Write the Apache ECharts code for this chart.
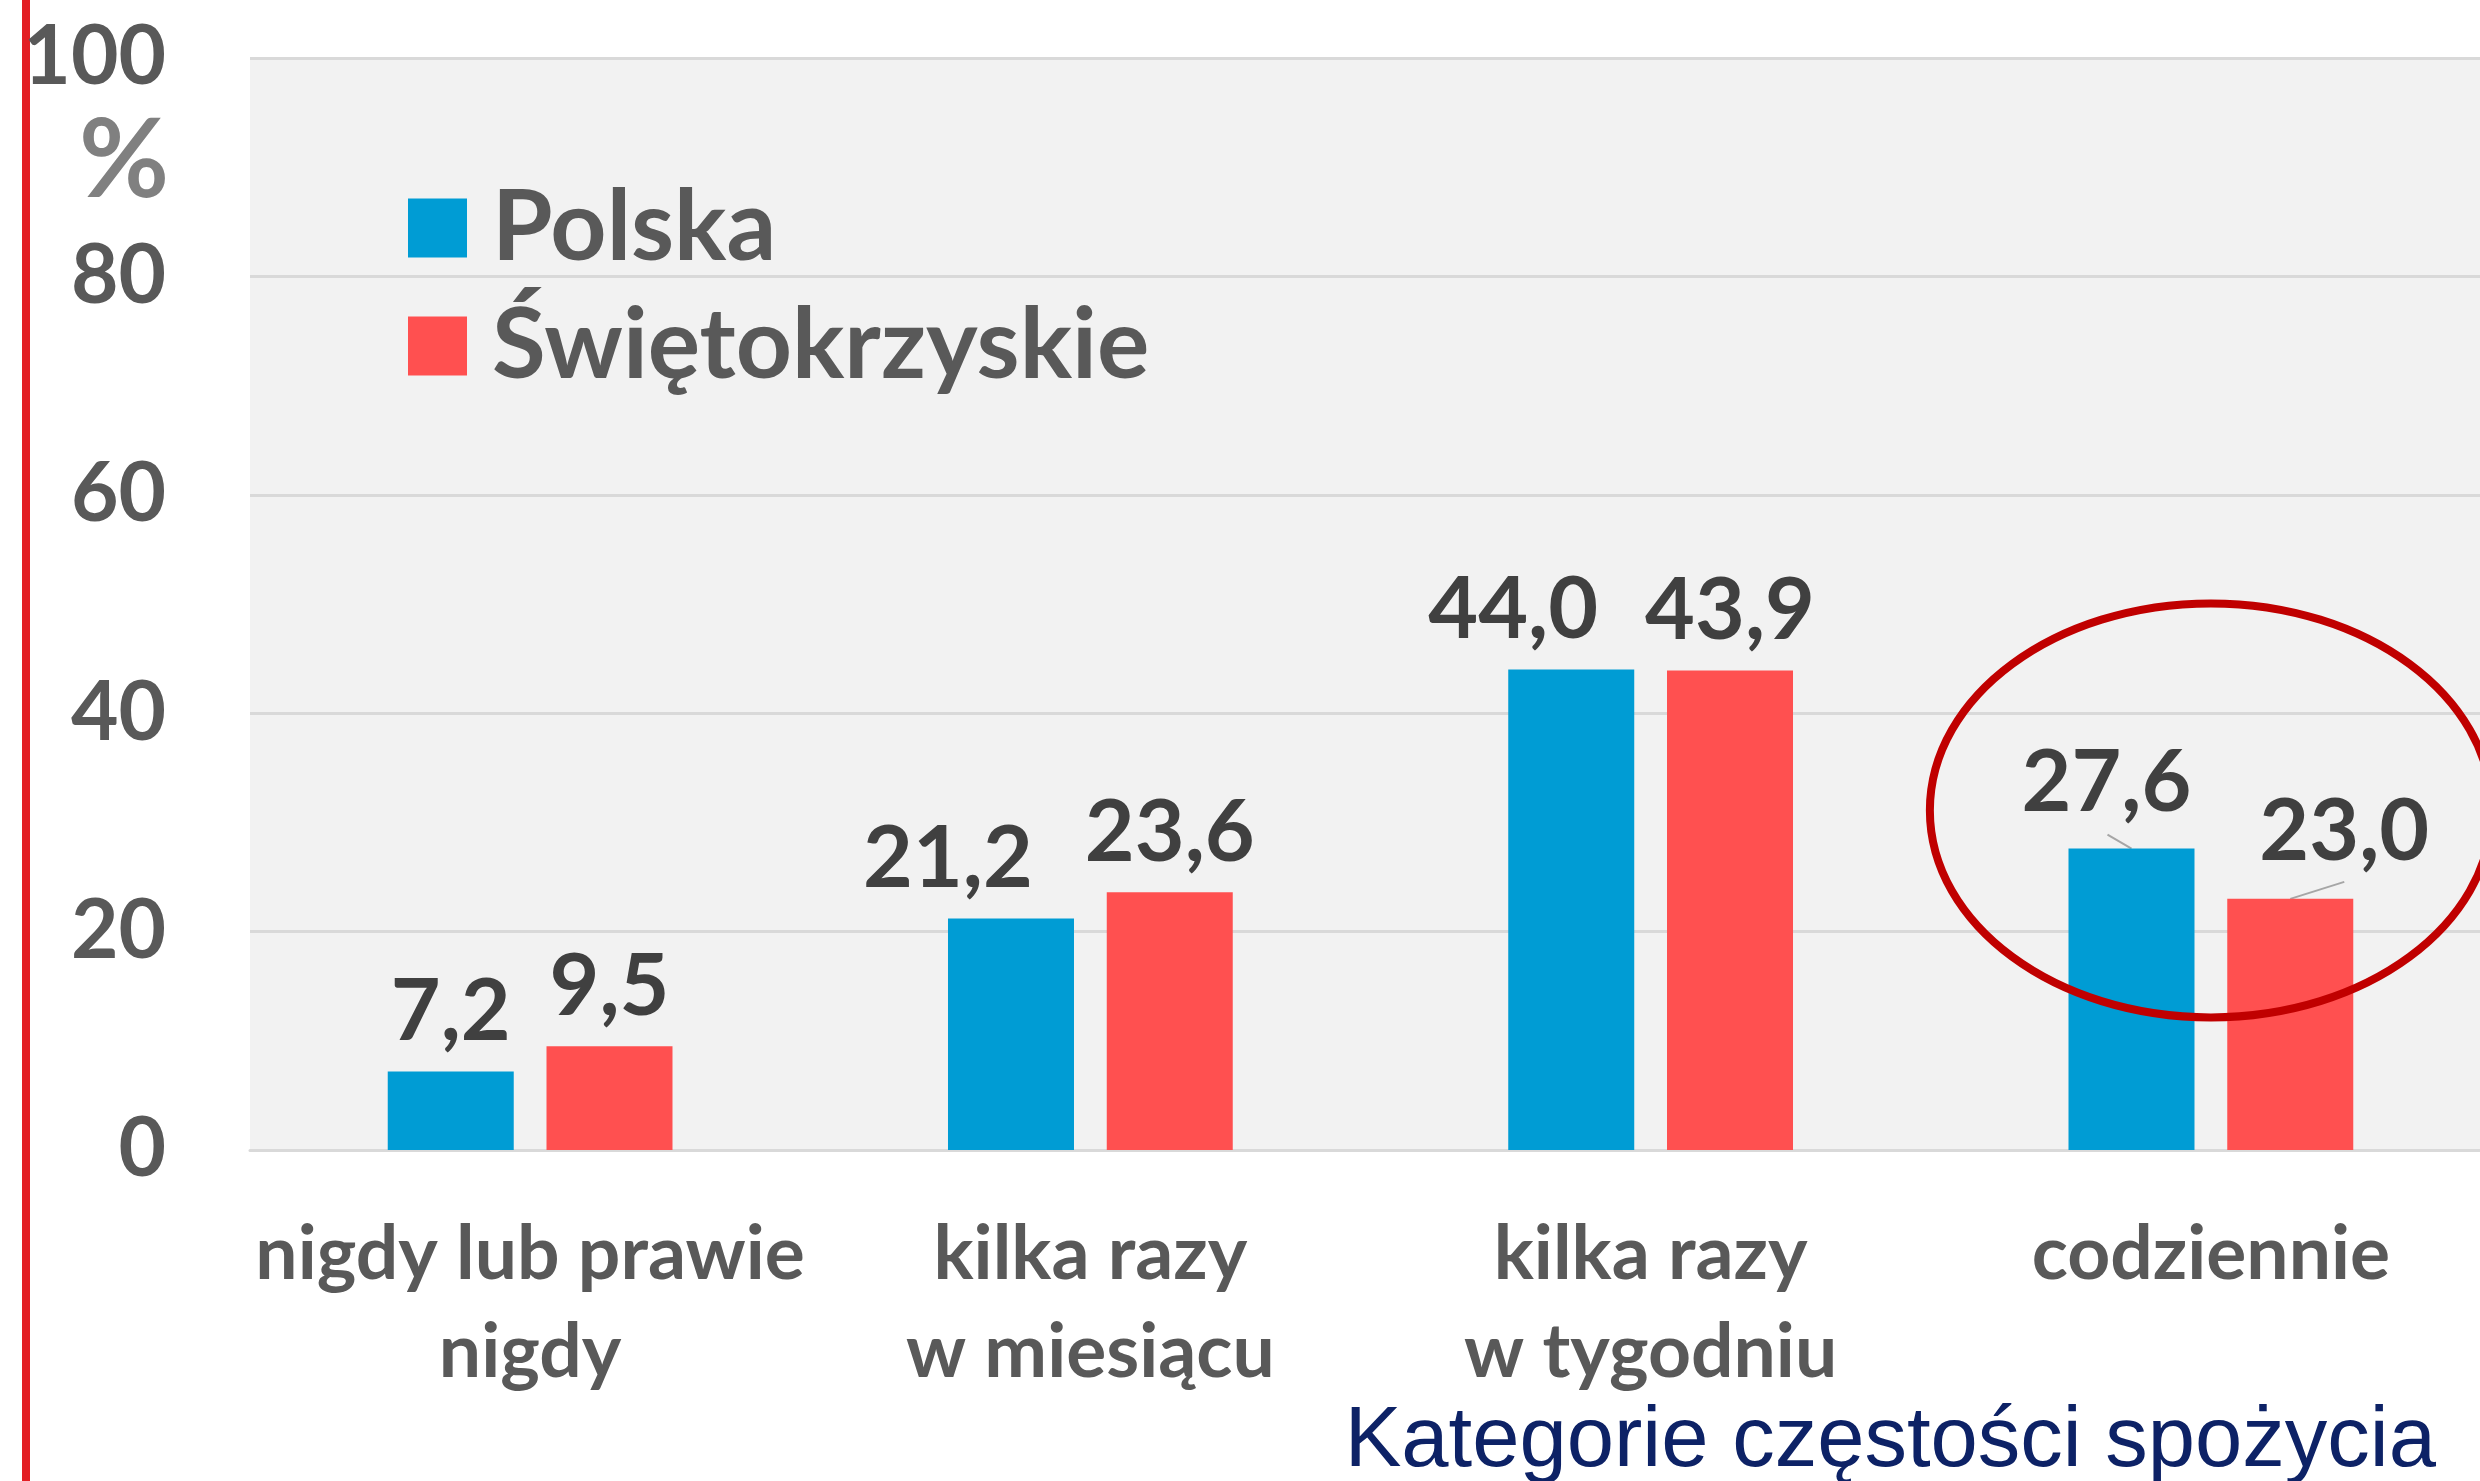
<!DOCTYPE html>
<html>
<head>
<meta charset="utf-8">
<script src="https://cdn.jsdelivr.net/npm/echarts@6/dist/echarts.min.js"></script>
<style>
  html, body { margin: 0; padding: 0; background: #fff; }
  #chart { width: 2480px; height: 1481px; }
</style>
</head>
<body>
<div id="chart"></div>
<script>
// kategorie częstości spożycia
const categories = ['nigdy lub prawie\nnigdy', 'kilka razy\nw miesiącu', 'kilka razy\nw tygodniu', 'codziennie'];
const polska = [7.2, 21.2, 44.0, 27.6];
const swietokrzyskie = [9.5, 23.6, 43.9, 23.0];
const yTicks = [0, 20, 40, 60, 80, 100];

// przesunięcia etykiet (px) jak na oryginale
const labelShift = [
  [[0, 0], [-63, 0], [-58, 0], [-25, -6]],
  [[0, 0], [0, 0], [0, 0], [54, -8]]
];

const FONT = 'Lato';
const BAR_W = 126;
const BAR_GAP = 0.26;
const chart = echarts.init(document.getElementById('chart'));

const fmt = v => v.toFixed(1).replace('.', ',');

const barLabel = {
  show: true,
  position: 'top',
  distance: 16,
  fontFamily: FONT,
  fontWeight: 'bold',
  fontSize: 86,
  color: '#404040',
  formatter: p => fmt(p.value)
};

const option = {
  animation: false,
  grid: {
    left: 250, width: 2241, top: 58, bottom: 331,
    outerBoundsMode: 'none',
    show: true, backgroundColor: '#f2f2f2', borderWidth: 0
  },
  legend: {
    orient: 'vertical',
    left: 403, top: 173,
    icon: 'rect',
    itemWidth: 59, itemHeight: 59,
    itemGap: 18,
    textStyle: {
      fontFamily: FONT, fontWeight: 'bold', fontSize: 98, color: '#595959',
      lineHeight: 100, padding: [0, 0, 0, 20]
    },
    data: ['Polska', 'Świętokrzyskie']
  },
  xAxis: {
    type: 'category',
    data: categories,
    axisTick: { show: false },
    axisLine: { lineStyle: { color: '#d9d9d9', width: 3 } },
    axisLabel: {
      interval: 0, margin: 56,
      fontFamily: FONT, fontWeight: 'bold', fontSize: 75, lineHeight: 98,
      color: '#595959'
    }
  },
  yAxis: {
    type: 'value',
    min: yTicks[0], max: yTicks[yTicks.length - 1], interval: 20,
    axisLine: { show: false },
    axisTick: { show: false },
    splitLine: { lineStyle: { color: '#d9d9d9', width: 3 } },
    axisLabel: {
      margin: 84,
      fontFamily: FONT, fontWeight: 'bold', fontSize: 82, color: '#595959'
    }
  },
  series: [
    {
      name: 'Polska', type: 'bar',
      data: polska,
      barWidth: BAR_W, barGap: (BAR_GAP * 100) + '%',
      itemStyle: { color: '#009cd4' },
      label: barLabel
    },
    {
      name: 'Świętokrzyskie', type: 'bar',
      data: swietokrzyskie,
      barWidth: BAR_W,
      itemStyle: { color: '#ff5050' },
      label: barLabel
    }
  ],
  labelLayout: p => {
    const s = labelShift[p.seriesIndex][p.dataIndex];
    return { dx: s[0], dy: s[1] };
  }
};

chart.setOption(option);

// adnotacje: czerwona linia, znak %, tytuł osi, elipsa, linie odniesienia
const c = chart.convertToPixel({ gridIndex: 0 }, [categories[3], 31.1]);
const half = BAR_W * (1 + BAR_GAP) / 2;
const topP = chart.convertToPixel({ gridIndex: 0 }, [categories[3], polska[3]]);
const topS = chart.convertToPixel({ gridIndex: 0 }, [categories[3], swietokrzyskie[3]]);
const guide = { stroke: '#a6a6a6', lineWidth: 2 };

chart.setOption({
  graphic: [
    {
      type: 'line', silent: true,
      shape: { x1: 26, y1: 0, x2: 26, y2: 1481 },
      style: { stroke: '#e31e24', lineWidth: 8 }
    },
    {
      type: 'text', silent: true,
      x: 124, y: 162,
      style: {
        text: '%', fontFamily: FONT, fontWeight: 'bold', fontSize: 110,
        fill: '#808080', align: 'center', verticalAlign: 'middle'
      }
    },
    {
      type: 'text', silent: true,
      x: 2436, y: 1443,
      style: {
        text: 'Kategorie częstości spożycia', fontFamily: 'Liberation Sans',
        fontSize: 85, fill: '#0d2266', align: 'right', verticalAlign: 'middle'
      }
    },
    {
      type: 'line', silent: true,
      shape: { x1: topP[0] - half, y1: topP[1], x2: topP[0] - half - 24, y2: topP[1] - 14 },
      style: guide
    },
    {
      type: 'line', silent: true,
      shape: { x1: topS[0] + half, y1: topS[1], x2: topS[0] + half + 54, y2: topS[1] - 17 },
      style: guide
    },
    {
      type: 'ellipse', silent: true, z: 100,
      shape: { cx: c[0], cy: c[1], rx: 281, ry: 207 },
      style: { fill: null, stroke: '#c00000', lineWidth: 8 }
    }
  ]
});
</script>
</body>
</html>
